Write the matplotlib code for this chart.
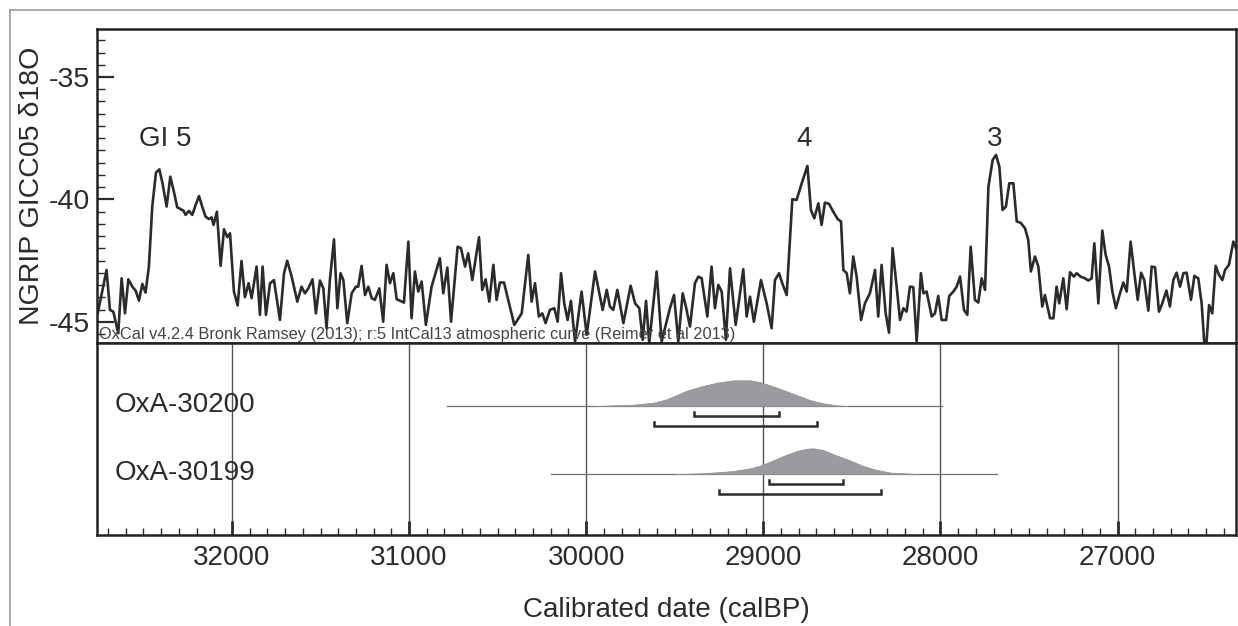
import matplotlib
matplotlib.use('Agg')
import matplotlib.pyplot as plt
from matplotlib.lines import Line2D
from matplotlib.ticker import MultipleLocator

plt.rcParams['font.family'] = ['Liberation Sans', 'DejaVu Sans']
plt.rcParams['axes.unicode_minus'] = False

# NGRIP d18O (age calBP, permil)
ngrip_age = [32758, 32708, 32689, 32670, 32642, 32623, 32604, 32585, 32563, 32544,
             32525, 32506, 32488, 32469, 32450, 32429, 32410, 32392, 32369, 32348,
             32328, 32309, 32288, 32273, 32262, 32243, 32224, 32205, 32186, 32168,
             32149, 32130, 32115, 32104, 32085, 32064, 32045, 32026, 32011, 31989,
             31968, 31946, 31927, 31906, 31889, 31861, 31842,
             31827, 31808, 31785, 31763, 31729, 31706, 31688, 31663, 31631, 31607,
             31588, 31569, 31545, 31526, 31503, 31484, 31466, 31447, 31424, 31405,
             31387, 31371, 31349, 31324, 31300, 31287, 31268, 31249, 31230, 31211,
             31193, 31168, 31146, 31127, 31108, 31089, 31070, 31052, 31029, 31004,
             30986, 30967, 30948, 30929, 30905,
             30873, 30826, 30807, 30784, 30763, 30726, 30707, 30684, 30666, 30643,
             30605, 30587, 30568, 30547, 30524, 30506, 30487, 30464, 30440, 30406,
             30364, 30327, 30308, 30289, 30267, 30248, 30229, 30205, 30180, 30161,
             30142, 30124, 30105, 30086, 30063, 30026, 29997,
             29950, 29907, 29884, 29866, 29847, 29824, 29790, 29749, 29724, 29700,
             29681, 29662, 29644, 29602, 29574, 29527, 29504, 29480, 29455, 29437,
             29414, 29386, 29367, 29348, 29316, 29292, 29273, 29254, 29235, 29211,
             29188, 29156, 29113, 29094, 29075, 29053,
             29013, 28981, 28953, 28934, 28911, 28893, 28868, 28836, 28812, 28783,
             28751, 28731, 28712, 28689, 28671, 28652, 28629, 28605, 28580, 28561,
             28548, 28529, 28511, 28492, 28473, 28448, 28426, 28398, 28369, 28351,
             28332, 28309, 28290, 28270, 28247, 28228, 28209, 28191, 28172, 28153,
             28134, 28110,
             28096, 28078, 28049, 28031, 28012, 27993, 27968, 27950, 27927, 27908,
             27889, 27867, 27848, 27829, 27805, 27786, 27767, 27748, 27729, 27705,
             27686, 27667, 27649, 27630, 27611, 27588, 27569, 27547, 27522, 27504,
             27489, 27466, 27447, 27425, 27410, 27381, 27362, 27344, 27329, 27306,
             27287, 27268, 27246, 27231, 27208, 27184,
             27165, 27146, 27131, 27108, 27086, 27067, 27048, 27029, 27009, 26986,
             26967, 26948, 26926, 26905, 26886, 26867, 26849, 26826, 26807, 26788,
             26766, 26747, 26724, 26704, 26685, 26666, 26647, 26628, 26610, 26585,
             26566, 26544, 26525, 26510, 26497, 26483, 26465, 26446, 26427, 26408,
             26393, 26371, 26346, 26327]
ngrip_d18o = [-44.65, -42.88, -44.51, -44.58, -45.46, -43.22, -44.65, -43.26, -43.56, -43.72,
              -44.13, -43.45, -43.80, -42.74, -40.29, -38.90, -38.77, -39.34, -40.29, -39.07,
              -39.68, -40.32, -40.40, -40.46, -40.63, -40.47, -40.63, -40.22, -39.86, -40.29,
              -40.70, -40.80, -40.73, -41.04, -40.50, -42.71, -41.22, -41.54, -41.38, -43.76,
              -44.33, -42.51, -43.99, -43.42, -44.03, -42.74, -44.71,
              -42.74, -44.71, -43.42, -43.29, -44.92, -43.01, -42.50, -43.15, -44.17, -43.56,
              -43.83, -43.63, -43.26, -44.65, -43.31, -43.63, -45.26, -43.29, -41.63, -44.44,
              -43.01, -43.29, -45.05, -43.83, -43.56, -43.56, -42.71, -43.90, -43.56, -44.03,
              -44.10, -43.63, -44.99, -42.67, -43.42, -43.01, -44.07, -44.13, -44.21, -41.72,
              -44.85, -42.94, -43.76, -43.35, -45.12,
              -43.56, -42.40, -43.83, -42.78, -44.99, -41.93, -41.99, -42.74, -42.20, -43.29,
              -41.54, -43.69, -43.26, -44.17, -42.67, -44.10, -43.39, -43.39, -44.10, -45.12,
              -44.65, -42.26, -44.17, -43.42, -44.78, -44.65, -45.05, -44.51, -44.44, -44.99,
              -43.01, -44.24, -44.92, -44.14, -45.80, -43.76, -45.53,
              -42.94, -44.51, -43.69, -44.37, -44.51, -43.69, -45.05, -43.52, -44.24, -44.44,
              -45.73, -44.14, -45.87, -42.94, -45.80, -44.44, -43.90, -45.80, -43.83, -44.37,
              -45.19, -43.42, -43.15, -43.22, -44.78, -42.74, -44.44, -43.49, -43.76, -45.73,
              -42.81, -45.12, -42.85, -44.78, -43.97, -44.99,
              -43.29, -44.24, -45.26, -43.29, -43.01, -43.42, -43.90, -39.99, -40.02, -39.34,
              -38.63, -40.43, -40.77, -40.16, -41.04, -40.13, -40.18, -40.50, -40.80, -40.90,
              -42.88, -43.01, -43.83, -42.33, -43.15, -44.92, -44.24, -43.83, -42.88, -44.78,
              -42.67, -44.65, -45.44, -41.99, -43.56, -44.92, -44.44, -44.58, -43.56, -43.58,
              -45.80, -43.01,
              -43.83, -43.76, -44.78, -44.65, -43.94, -44.92, -44.92, -43.94, -43.76, -43.56,
              -43.15, -44.51, -44.71, -41.93, -44.10, -44.21, -43.22, -43.69, -39.48, -38.39,
              -38.18, -38.66, -40.43, -40.29, -39.34, -39.34, -40.90, -40.95, -41.18, -41.65,
              -42.94, -42.33, -42.74, -44.37, -43.90, -44.85, -44.85, -43.56, -44.24, -43.22,
              -44.48, -42.97, -43.15, -43.01, -43.15, -43.22,
              -43.31, -43.22, -41.79, -44.24, -41.27, -42.26, -42.74, -43.76, -44.44, -43.83,
              -43.39, -43.76, -41.72, -43.01, -44.10, -42.99, -43.29, -44.54, -42.74, -42.77,
              -44.58, -44.24, -43.72, -44.37, -43.29, -42.99, -43.56, -43.01, -42.99, -44.10,
              -43.12, -43.22, -44.24, -45.87, -45.80, -44.31, -44.65, -42.71, -43.08, -43.29,
              -42.88, -42.67, -41.72, -42.06]

events = ['GI 5', '4', '3']
event_age = [32378, 28770, 27692]

calib_ticks = [32000, 31000, 30000, 29000, 28000, 27000]

# OxCal calibrated distributions
samples = ['OxA-30200', 'OxA-30199']
dist_200_age = [29960, 29734, 29621, 29546, 29489, 29433, 29358, 29263, 29169, 29075,
                29019, 28962, 28887, 28812, 28737, 28661, 28586, 28520]
dist_200_prob = [0, 1.3, 3.3, 6.7, 11, 15.3, 19.3, 23.3, 25.7, 25.7,
                 24, 20.7, 16, 11, 6, 2.7, 0.7, 0]
dist_199_age = [29489, 29358, 29263, 29169, 29075, 29019, 28962, 28887, 28812, 28755,
                28718, 28661, 28593, 28516, 28443, 28369, 28285, 28126]
dist_199_prob = [0, 0.7, 1.7, 3, 5.7, 8.3, 12.3, 18, 23, 25.3,
                 25.7, 24, 19, 14, 8.5, 4.5, 1.5, 0]
prior_range = [(30786, 27990), (30199, 27680)]
range_68 = [(29391, 28910), (28966, 28548)]
range_95 = [(29617, 28698), (29248, 28337)]

W, H = 1238, 626
fig = plt.figure(figsize=(W / 100, H / 100), dpi=100)

# outer frame
fig.add_artist(Line2D([10 / W, 1], [1 - 10 / H, 1 - 10 / H], transform=fig.transFigure,
                      color='#999999', lw=1.2))
fig.add_artist(Line2D([10 / W, 10 / W], [0, 1 - 10 / H], transform=fig.transFigure,
                      color='#999999', lw=1.2))

ax1 = fig.add_axes([97 / W, 1 - 343 / H, (1236 - 97) / W, 314 / H])
ax2 = fig.add_axes([97 / W, 1 - 535 / H, (1236 - 97) / W, 192 / H])

xlim = (32762, 26331)
ink = '#2b2b2b'

ax1.plot(ngrip_age, ngrip_d18o, color=ink, lw=1.9)
ax1.set_xlim(xlim)
ax1.set_ylim(-45.86, -33.04)
ax1.set_xticks([])
ax1.yaxis.set_major_locator(MultipleLocator(5))
ax1.yaxis.set_minor_locator(MultipleLocator(0.5))
ax1.tick_params(axis='y', which='major', direction='in', length=12, width=1.6,
                labelsize=20.5, pad=5, colors=ink)
ax1.tick_params(axis='y', which='minor', direction='in', length=6, width=1, colors=ink)
ax1.set_ylabel('NGRIP GICC05 δ18O', fontsize=20.5, labelpad=3, color=ink)
for name, age in zip(events, event_age):
    ax1.text(age, -37.53, name, ha='center', va='center', fontsize=20, color=ink)
ax1.text(0.002, 0.004, 'OxCal v4.2.4 Bronk Ramsey (2013); r:5 IntCal13 atmospheric curve '
         '(Reimer et al 2013)', transform=ax1.transAxes, ha='left', va='bottom',
         fontsize=11.8, color='#444444')

ax2.set_xlim(xlim)
ax2.set_ylim(0, 192)
ax2.set_yticks([])
ax2.set_xticks(calib_ticks)
ax2.set_xticklabels([str(t) for t in calib_ticks])
ax2.xaxis.set_minor_locator(MultipleLocator(100))
ax2.tick_params(axis='x', which='major', direction='in', length=10, width=2,
                labelsize=20, pad=7, colors=ink)
ax2.tick_params(axis='x', which='minor', direction='in', length=5, width=1, colors=ink)
ax2.set_axisbelow(True)
ax2.grid(axis='x', which='major', color='#555555', lw=1)
ax2.set_xlabel('Calibrated date (calBP)', fontsize=20, labelpad=19, color=ink)

base = [129, 61]
dists = [(dist_200_age, dist_200_prob), (dist_199_age, dist_199_prob)]
for i in range(2):
    y0 = base[i]
    ax2.plot(prior_range[i], [y0, y0], color='#707070', lw=0.9, zorder=2)
    ages, prob = dists[i]
    ax2.fill_between(ages, y0, [y0 + p for p in prob], color='#9b9b9f', lw=0.5,
                     edgecolor='#8f8f93', zorder=3)
    for (a, b), yr in [(range_68[i], y0 - 10), (range_95[i], y0 - 20)]:
        ax2.plot([a, a, b, b], [yr + 4, yr, yr, yr + 4], color=ink, lw=1.8,
                 solid_joinstyle='miter', zorder=4)
    ax2.text(32661, y0 + 1, samples[i], ha='left', va='center', fontsize=20, color=ink)

for ax in (ax1, ax2):
    for s in ax.spines.values():
        s.set_linewidth(1.8)
        s.set_color('#222222')

fig.savefig('out.png', dpi=100)
